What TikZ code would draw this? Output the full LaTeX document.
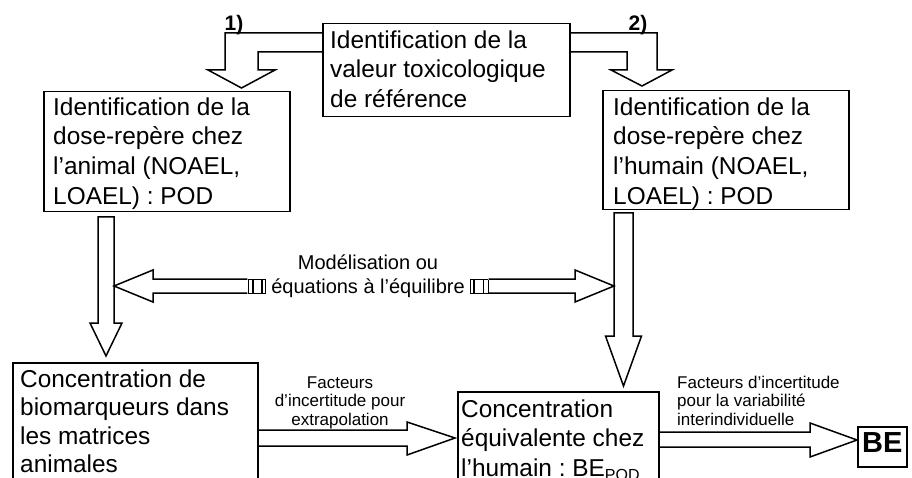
\documentclass[tikz,border=0pt]{standalone}
\usepackage{fontspec}
\usepackage{graphicx}
\setmainfont{Liberation Sans}
\usetikzlibrary{calc}
\frenchspacing
% invisible strut fixing the height of a node's first line
\newcommand\firstline[1]{\rule{0pt}{#1}}
% small empty glyph boxes inside the modelling label
\newcommand\tofu[1]{{\setlength\fboxsep{0pt}\setlength\fboxrule{0.6pt}\fbox{\rule{0pt}{13.4pt}\hspace{#1}}}}
\begin{document}
\begin{tikzpicture}[x=1pt,y=-1pt,
  frame/.style={draw, line width=1.5pt, inner sep=0pt, anchor=north west},
  bigtext/.style={anchor=north west, align=left, inner sep=0pt, font=\fontsize{24.4}{29.7}\selectfont},
  note/.style={inner sep=0pt, font=\fontsize{17}{18.5}\selectfont},
  steplabel/.style={anchor=base, inner sep=0pt, font=\fontsize{21}{21}\selectfont\bfseries},
  blockarrow/.style={draw, line width=1.5pt, line join=miter, miter limit=10}]
\useasboundingbox (0,0) rectangle (912,478);
\begin{scope}
\clip (0,0) rectangle (912,478);

% boxes
\node[frame, minimum width=247pt, minimum height=93pt] (tox) at (322,23) {};
\node[frame, minimum width=246pt, minimum height=120pt] (podA) at (43,91) {};
\node[frame, minimum width=246pt, minimum height=119pt] (podH) at (602,90) {};
\node[frame, minimum width=245pt, minimum height=140pt] (bioA) at (12,362) {};
\node[frame, minimum width=201pt, minimum height=120pt] (beq) at (457,391) {};
\node[frame, minimum width=49pt, minimum height=40pt] (be) at (857,426) {};

% box texts
\node[bigtext] (toxT) at (330,28) {\firstline{20pt}Identification de la\\valeur toxicologique\\de référence};
\node[bigtext] (podAT) at (53,95) {\firstline{20pt}Identification de la\\dose-repère chez\\l’animal (NOAEL,\\LOAEL) : POD};
\node[bigtext] (podHT) at (613,95) {\firstline{20pt}Identification de la\\dose-repère chez\\l’humain (NOAEL,\\LOAEL) : POD};
\node[bigtext, font=\fontsize{24.4}{28.5}\selectfont] (bioAT) at (20,367) {\firstline{20pt}Concentration de\\biomarqueurs dans\\les matrices\\animales};
\node[bigtext] (beqT) at (461,397) {\firstline{20pt}Concentration\\équivalente chez\\l’humain : BE\raisebox{-4pt}{\fontsize{16}{16}\selectfont POD}};
\node[anchor=base west, inner sep=0pt, font=\fontsize{29}{29}\selectfont\bfseries] (beT) at (862,452) {BE};

% step labels
\node[steplabel] (stepA) at (234,31) {1)};
\node[steplabel] (stepB) at (638,31) {2)};

% arrow labels
\node[note, align=center, anchor=north] (facA) at (340,371) {\firstline{17pt}Facteurs\\d’incertitude pour\\extrapolation};
\node[note, align=left, anchor=north west] (facB) at (677,371) {\firstline{17pt}Facteurs d’incertitude\\pour la variabilité\\interindividuelle};
\node[inner sep=0pt, align=center, anchor=north, font=\fontsize{20}{24}\selectfont] (model) at (368,249)
  {\firstline{20pt}Modélisation ou\\\tofu{4pt}\tofu{8pt}\tofu{2.5pt} équations à l’équilibre \tofu{2.5pt}\tofu{8pt}\tofu{4pt}};

% elbow arrow 1)
\draw[blockarrow] ($(tox.north west)+(0,10)$) -- (225,33) -- (225,70) -- (208,70) -- (241.5,88)
  -- (275,70) -- (258,70) -- (258,52) -- ($(tox.north west)+(0,29)$);
% elbow arrow 2)
\draw[blockarrow] ($(tox.north east)+(0,10)$) -- (657,33) -- (657,70) -- (672,70) -- (642,86)
  -- (611,70) -- (627,70) -- (627,52) -- ($(tox.north east)+(0,29)$);

% vertical arrows
\draw[blockarrow] (98,217) -- (98,323) -- (90,323) -- (106,356) -- (122,323) -- (114,323) -- (114,217) -- cycle;
\draw[blockarrow] (614,213) -- (614,336) -- (605.5,336) -- (623.5,386) -- (641.5,336) -- (633,336) -- (633,213) -- cycle;

% double arrow split by its label
\draw[blockarrow] (model.west |- 0,279) -- (153,279) -- (153,270) -- (114,286) -- (153,302) -- (153,293) -- (model.west |- 0,293);
\draw[blockarrow] (model.east |- 0,279) -- (575,279) -- (575,270) -- (614,286) -- (575,302) -- (575,293) -- (model.east |- 0,293);

% horizontal arrows at the bottom
\draw[blockarrow] ($(bioA.north east)+(0,68)$) -- (407,430) -- (407,422) -- (455,438) -- (407,455) -- (407,446) -- ($(bioA.north east)+(0,84)$);
\draw[blockarrow] ($(beq.north east)+(0,41)$) -- (810,432) -- (810,423) -- (857,440) -- (810,457) -- (810,447) -- ($(beq.north east)+(0,56)$);
\end{scope}
\end{tikzpicture}
\end{document}
